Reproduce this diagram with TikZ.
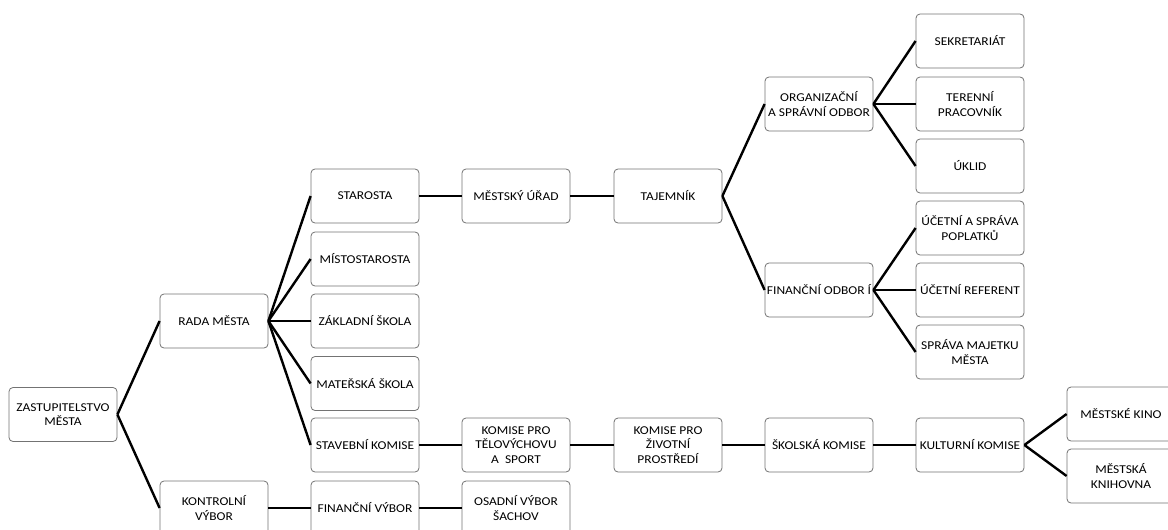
\documentclass[tikz,border=0pt]{standalone}
\usepackage{fontspec}
\setmainfont{Carlito}[FakeStretch=1.12]
\begin{document}
\begin{tikzpicture}[x=1pt,y=-1pt,
  box/.style={draw=black!55, line width=0.8pt, rounded corners=4pt, fill=white,
    minimum width=108pt, minimum height=54pt, inner sep=1pt, align=center,
    font=\fontsize{12}{14.6}\selectfont},
  link/.style={line width=2.4pt, black}]
\useasboundingbox (0,0) rectangle (1168,530);
\clip (0,0) rectangle (1168,530);
% column 1-2
\node[box] (zast) at (63,414.5) {ZASTUPITELSTVO\\MĚSTA};
\node[box] (rada) at (214,321) {RADA MĚSTA};
\node[box] (kontr) at (214,508) {KONTROLNÍ\\VÝBOR};
% column 3
\node[box] (star) at (365,196) {STAROSTA};
\node[box] (mist) at (365,259) {MÍSTOSTAROSTA};
\node[box] (zakl) at (365,321) {ZÁKLADNÍ ŠKOLA};
\node[box] (mat) at (365,383.5) {MATEŘSKÁ ŠKOLA};
\node[box] (stav) at (365,445) {STAVEBNÍ KOMISE};
\node[box] (finv) at (365,508) {FINANČNÍ VÝBOR};
% column 4
\node[box] (mu) at (516,196) {MĚSTSKÝ ÚŘAD};
\node[box] (tel) at (516,445) {KOMISE PRO\\TĚLOVÝCHOVU\\A\ \ SPORT};
\node[box] (osad) at (516,508) {OSADNÍ VÝBOR\\ŠACHOV};
% column 5
\node[box] (taj) at (668,196) {TAJEMNÍK};
\node[box] (ziv) at (668,445) {KOMISE PRO\\ŽIVOTNÍ\\PROSTŘEDÍ};
% column 6
\node[box] (org) at (819,104) {ORGANIZAČNÍ\\A SPRÁVNÍ ODBOR};
\node[box] (fino) at (819,290) {FINANČNÍ ODBOR Í};
\node[box] (skol) at (819,445) {ŠKOLSKÁ KOMISE};
% column 7
\node[box] (sekr) at (970,41) {SEKRETARIÁT};
\node[box] (ter) at (970,104) {TERENNÍ\\PRACOVNÍK};
\node[box] (ukl) at (970,166) {ÚKLID};
\node[box] (ucsp) at (970,228) {ÚČETNÍ A SPRÁVA\\POPLATKŮ};
\node[box] (ucref) at (970,290) {ÚČETNÍ REFERENT};
\node[box] (spr) at (970,352) {SPRÁVA MAJETKU\\MĚSTA};
\node[box] (kult) at (970,445) {KULTURNÍ KOMISE};
% column 8
\node[box] (kino) at (1121,414) {MĚSTSKÉ KINO};
\node[box] (knih) at (1121,476) {MĚSTSKÁ\\KNIHOVNA};
% connectors
\draw[link] (zast.east) -- (rada.west);
\draw[link] (zast.east) -- (kontr.west);
\foreach \c in {star,mist,zakl,mat,stav} \draw[link] (rada.east) -- (\c.west);
\draw[link] (kontr.east) -- (finv.west);
\draw[link] (finv.east) -- (osad.west);
\draw[link] (star.east) -- (mu.west);
\draw[link] (mu.east) -- (taj.west);
\draw[link] (taj.east) -- (org.west);
\draw[link] (taj.east) -- (fino.west);
\foreach \c in {sekr,ter,ukl} \draw[link] (org.east) -- (\c.west);
\foreach \c in {ucsp,ucref,spr} \draw[link] (fino.east) -- (\c.west);
\draw[link] (stav.east) -- (tel.west);
\draw[link] (tel.east) -- (ziv.west);
\draw[link] (ziv.east) -- (skol.west);
\draw[link] (skol.east) -- (kult.west);
\draw[link] (kult.east) -- (kino.west);
\draw[link] (kult.east) -- (knih.west);
\end{tikzpicture}
\end{document}
